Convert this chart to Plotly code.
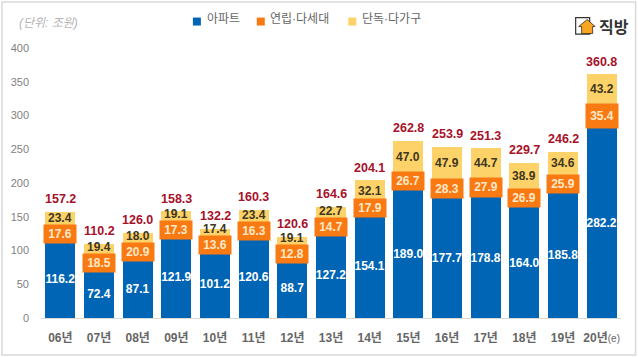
import plotly.graph_objects as go

years = ["06년", "07년", "08년", "09년", "10년", "11년", "12년", "13년", "14년", "15년", "16년", "17년", "18년", "19년", "20년"]
tick_labels = years[:-1] + ['20년<span style="font-size:10px;font-weight:normal">(e)</span>']
apt = [116.2, 72.4, 87.1, 121.9, 101.2, 120.6, 88.7, 127.2, 154.1, 189.0, 177.7, 178.8, 164.0, 185.8, 282.2]
villa = [17.6, 18.5, 20.9, 17.3, 13.6, 16.3, 12.8, 14.7, 17.9, 26.7, 28.3, 27.9, 26.9, 25.9, 35.4]
house = [23.4, 19.4, 18.0, 19.1, 17.4, 23.4, 19.1, 22.7, 32.1, 47.0, 47.9, 44.7, 38.9, 34.6, 43.2]
totals = [157.2, 110.2, 126.0, 158.3, 132.2, 160.3, 120.6, 164.6, 204.1, 262.8, 253.9, 251.3, 229.7, 246.2, 360.8]
series_names = ["아파트", "연립·다세대", "단독·다가구"]
series_colors = ["#0065b5", "#f97a12", "#fdd268"]

W, H = 638, 357
L, R, T, B = 40.6, 621.4, 47.5, 318
FONT = "Liberation Sans, Noto Sans CJK KR, sans-serif"
PX_PER_UNIT = (B - T) / 400

def px(x):
    return (x - L) / (R - L)

def py(y):
    return (B - y) / (B - T)

fig = go.Figure()
fig.add_bar(
    x=years, y=apt, name=series_names[0], marker=dict(color=series_colors[0], line=dict(width=0)),
    text=[f"{v:.1f}" for v in apt], textposition="inside", insidetextanchor="middle",
    textangle=0, constraintext="none",
    insidetextfont=dict(family=FONT, size=12, color="#ffffff", weight="bold"),
)
fig.add_bar(x=years, y=villa, name=series_names[1], marker=dict(color=series_colors[1], line=dict(width=0)))
fig.add_bar(x=years, y=house, name=series_names[2], marker=dict(color=series_colors[2], line=dict(width=0)))

shapes = [
    dict(type="rect", xref="paper", yref="paper", x0=px(1.5), x1=px(636), y0=py(1.5), y1=py(355),
         line=dict(color="#d9d9d9", width=1.5), layer="below"),
    dict(type="rect", xref="paper", yref="paper", x0=px(576), x1=px(590), y0=py(17), y1=py(33.5),
         line=dict(color="#333333", width=1.2), fillcolor="#ffffff"),
    dict(type="path", xref="paper", yref="paper",
         path=f"M {px(582)} {py(33)} L {px(582)} {py(26)} L {px(579)} {py(26)} L {px(587.5)} {py(19)} "
              f"L {px(595.5)} {py(26)} L {px(593)} {py(26)} L {px(593)} {py(33)} Z",
         fillcolor="#f6a623", line=dict(color="#3a2a10", width=0.8)),
]

annotations = [
    dict(text="(단위: 조원)", xref="paper", yref="paper", x=px(17), y=py(22), xanchor="left", yanchor="middle",
         showarrow=False, font=dict(family=FONT, size=12, color="#b5b5b5", style="italic")),
    dict(text="<b>직방</b>", xref="paper", yref="paper", x=px(597.5), y=py(25), xanchor="left", yanchor="middle",
         showarrow=False, font=dict(family="Noto Sans CJK KR", size=16, color="#333333")),
]

# legend: swatch and label placed by hand to keep the reference's tight spacing
legend_swatch_x = [192.7, 256.7, 348.3]
legend_text_x = [206.7, 270, 362.3]
for name, col, sx, tx in zip(series_names, series_colors, legend_swatch_x, legend_text_x):
    shapes.append(dict(type="rect", xref="paper", yref="paper", x0=px(sx), x1=px(sx + 8), y0=py(17), y1=py(25),
                       fillcolor=col, line=dict(width=0)))
    annotations.append(dict(text=name, xref="paper", yref="paper", x=px(tx), y=py(18.5), xanchor="left",
                            yanchor="middle", showarrow=False, xshift=-2,
                            font=dict(family=FONT, size=12, color="#666666")))

for yr, a, v, h, t in zip(years, apt, villa, house, totals):
    mid = a + v / 2
    box_h = max(18, v * PX_PER_UNIT)
    # orange labels sit in a box at least 18 px tall, slightly wider than the bar
    annotations.append(dict(x=yr, y=mid, text=f"{v:.1f}", showarrow=False, xanchor="center", yanchor="middle",
                            width=32, height=box_h, bgcolor=series_colors[1], borderpad=0, align="center",
                            valign="middle", font=dict(family=FONT, size=12, color="#ffe9c9", weight="bold")))
    top_mid = a + v + h / 2
    # yellow label: bar centre, pushed up when the orange box would cover it
    centre_px = top_mid * PX_PER_UNIT
    limit_px = mid * PX_PER_UNIT + box_h / 2 + 7
    annotations.append(dict(x=yr, y=top_mid, yshift=max(0, limit_px - centre_px), text=f"{h:.1f}", showarrow=False,
                            xanchor="center", yanchor="middle",
                            font=dict(family=FONT, size=12, color="#3d3620", weight="bold")))
    # total above the stack
    annotations.append(dict(x=yr, y=a + v + h, yshift=12.5, text=f"{t:.1f}", showarrow=False,
                            xanchor="center", yanchor="middle",
                            font=dict(family=FONT, size=12.5, color="#a8102a", weight="bold")))

fig.update_layout(
    width=W, height=H, autosize=False, showlegend=False,
    margin=dict(l=L, r=W - R, t=T, b=H - B, pad=0, autoexpand=False),
    paper_bgcolor="#ffffff", plot_bgcolor="#ffffff",
    barmode="stack", bargap=0.225,
    font=dict(family=FONT, color="#7f7f7f"),
    shapes=shapes, annotations=annotations,
    xaxis=dict(categoryorder="array", categoryarray=years, tickmode="array", tickvals=years, ticktext=tick_labels,
               range=[-0.5, 14.5], showgrid=False, showline=True, linecolor="#d9d9d9", linewidth=1, ticks="",
               automargin=False, tickfont=dict(family=FONT, size=12, color="#666666", weight="bold"),
               ticklabelstandoff=9),
    yaxis=dict(range=[0, 400], tickvals=[0, 50, 100, 150, 200, 250, 300, 350, 400], showgrid=False,
               showline=False, zeroline=False, ticks="", automargin=False,
               tickfont=dict(family=FONT, size=11, color="#7f7f7f"), ticklabelstandoff=11),
)
fig.write_html("out.html", config=dict(displayModeBar=False),
               post_script="document.body.style.margin='0';document.documentElement.style.overflow='hidden';")
